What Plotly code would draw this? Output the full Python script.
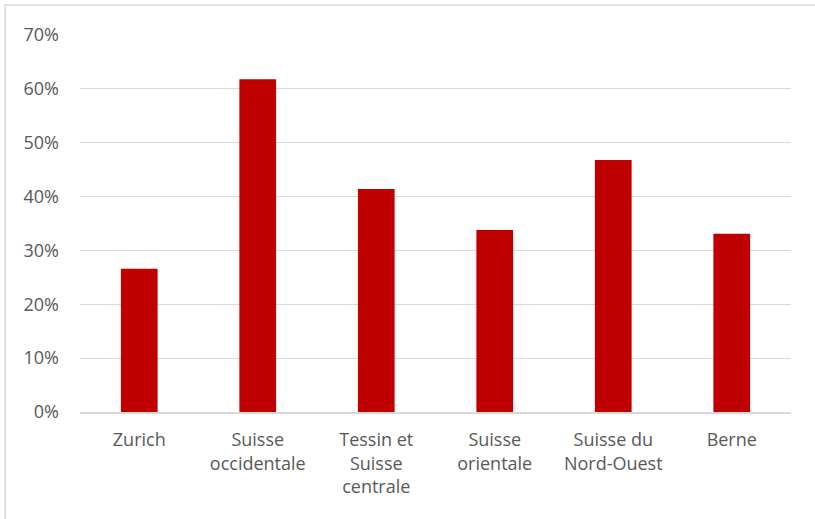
import plotly.graph_objects as go

# Share by region (fraction)
regions = ["Zurich", "Suisse<br>occidentale", "Tessin et<br>Suisse<br>centrale",
           "Suisse<br>orientale", "Suisse du<br>Nord-Ouest", "Berne"]
shares = [0.266, 0.618, 0.414, 0.338, 0.468, 0.331]

y_ticks = [0, 0.1, 0.2, 0.3, 0.4, 0.5, 0.6, 0.7]
y_tick_labels = ["0%", "10%", "20%", "30%", "40%", "50%", "60%", "70%"]

W, H = 815, 519
L, R, T, B = 80, 24, 35, 107

fig = go.Figure(go.Bar(
    x=regions, y=shares,
    marker=dict(color="#C00000", line=dict(width=0)),
    hoverinfo="skip",
))

pw = W - L - R
ph = H - T - B
# light frame around the chart area
fig.add_shape(
    type="rect", xref="paper", yref="paper",
    x0=(5 - L) / pw, x1=(W + 10 - L) / pw,
    y0=-(H + 10 - T - ph) / ph, y1=1 + (T - 5) / ph,
    line=dict(color="#D9D9D9", width=1.5), fillcolor="rgba(0,0,0,0)", layer="below",
)

fig.update_layout(
    width=W, height=H,
    margin=dict(l=L, r=R, t=T, b=B),
    paper_bgcolor="white", plot_bgcolor="white",
    bargap=0.69,
    showlegend=False,
    font=dict(family="'Open Sans', sans-serif", size=18, color="#595959"),
    xaxis=dict(showgrid=False, showline=True, linecolor="#D9D9D9", linewidth=1.5,
               ticks="", ticklabelstandoff=11,
               tickfont=dict(size=18, color="#595959"), fixedrange=True),
    yaxis=dict(range=[0, 0.7], tickvals=y_ticks, ticktext=y_tick_labels,
               showgrid=True, gridcolor="#D9D9D9", gridwidth=1.2,
               zeroline=False, showline=False, ticks="", ticklabelstandoff=20,
               tickfont=dict(size=18, color="#595959"), fixedrange=True),
)

fig.write_html("out.html")
